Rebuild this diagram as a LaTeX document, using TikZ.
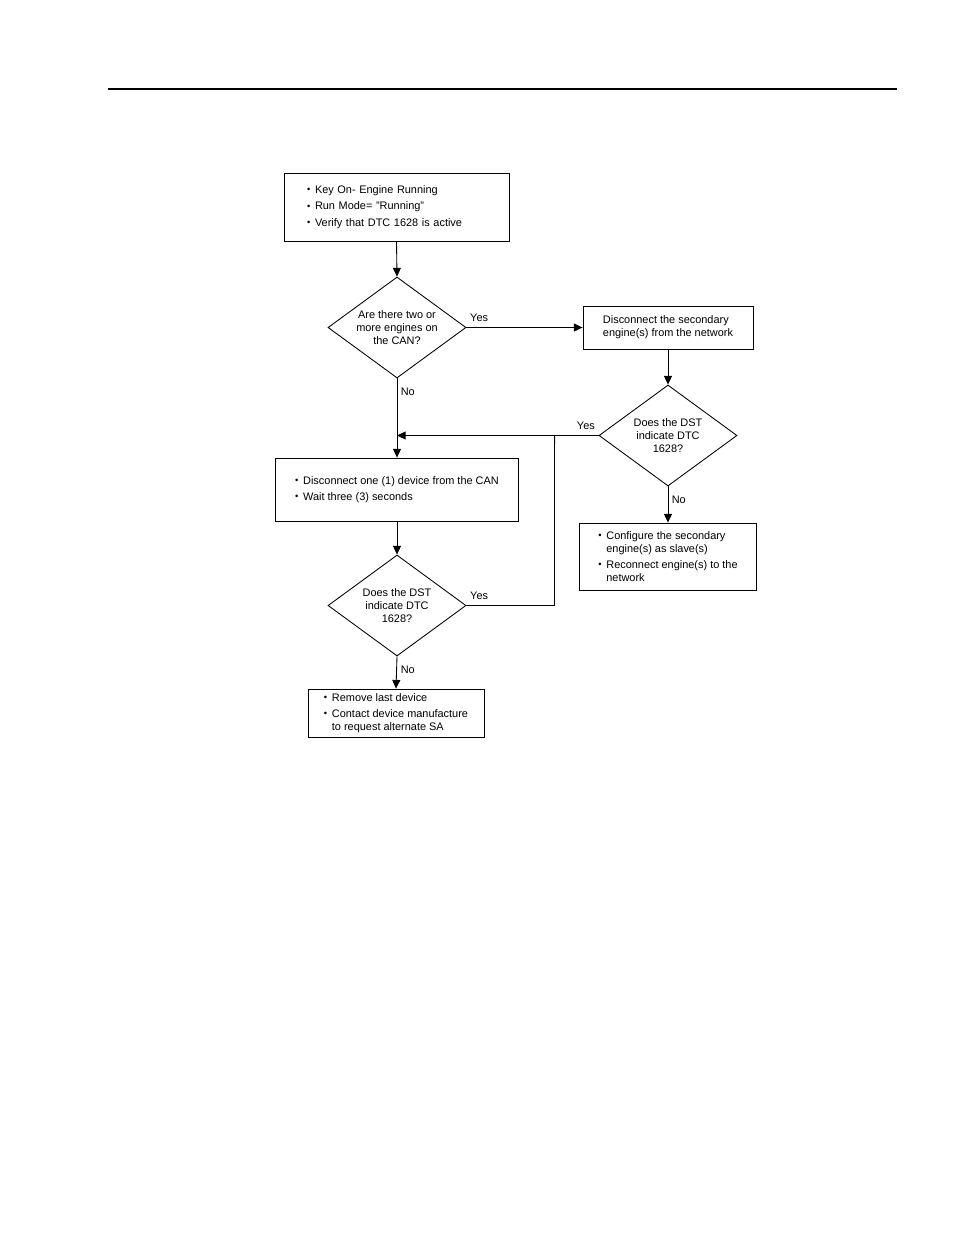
\documentclass[tikz,border=0pt]{standalone}
\usepackage{fontspec}
\setmainfont{Liberation Sans}
\usetikzlibrary{arrows.meta,shapes.geometric,positioning,calc}
\newcommand\flowfont{\fontsize{8.2}{9.8}\selectfont}
\newcommand\itm{\makebox[6pt][l]{\raisebox{.1ex}{\fontsize{7}{7}\selectfont\textbullet}}}
\newcommand\cnt{\hspace*{6pt}}
\tikzset{
 flow box/.style={draw,line width=.65pt,align=left,inner sep=0pt,font=\flowfont},
 flow test/.style={draw,diamond,aspect=1.37,line width=.65pt,inner sep=0pt,
   minimum width=103.5pt,minimum height=75.75pt,align=center,font=\flowfont},
 flow arrow/.style={-{Triangle[length=6.5pt,width=6pt]},line width=.65pt},
 flow line/.style={line width=.65pt},
 flow label/.style={font=\flowfont,inner sep=2.5pt},
 flow yes/.style={flow label,pos=0,yshift=1.5pt},
 flow no/.style={flow label,pos=0,below right,yshift=-4pt}
}
\begin{document}
\begin{tikzpicture}[x=.75pt,y=-.75pt]
\useasboundingbox (0,0) rectangle (954,1235);
\draw[line width=1pt] (108,89) -- (897,89);
% left column
\node[flow box,text width=134.25pt,inner xsep=17.25pt,minimum height=51pt] (start) at (396.5,207)
 {\itm Key On- Engine Running\\[2.6pt]\itm Run Mode= "Running"\\[2.6pt]\itm Verify that DTC 1628 is active};
\node[flow test] (multi) at (397,327.5) {Are there two or\\more engines on\\the CAN?};
\node[flow box,minimum width=182.25pt,minimum height=47.25pt] (unplug) at (397,489.5)
 {\itm Disconnect one (1) device from the CAN\\[2.4pt]\itm Wait three (3) seconds};
\node[flow test] (still) at (397,605.5) {Does the DST\\indicate DTC\\1628?};
\node[flow box,minimum width=132pt,minimum height=36pt] (vendor) at (396,713)
 {\itm Remove last device\\[2.4pt]\itm Contact device manufacture\\\cnt to request alternate SA};
% right column
\node[flow box,minimum width=127.5pt,minimum height=32.25pt] (split) at (668,327.5)
 {Disconnect the secondary\\engine(s) from the network};
\node[flow test] (active) at (668,435.5) {Does the DST\\indicate DTC\\1628?};
\node[flow box,minimum width=132.75pt,minimum height=50.25pt] (slave) at (668,556.5)
 {\itm Configure the secondary\\\cnt engine(s) as slave(s)\\[2.4pt]\itm Reconnect engine(s) to the\\\cnt network};
\coordinate (join) at ([xshift=-33pt]active.west);
% connectors
\draw[flow arrow] (start.south) -- (multi.north);
\draw[flow arrow] (multi.east) -- node[flow yes,above right]{Yes} (split.west);
\draw[flow arrow] (multi.south) -- node[flow no]{No} (unplug.north);
\draw[flow arrow] (split.south) -- (active.north);
\draw[flow arrow] (active.west) -- node[flow yes,above left]{Yes} (active.west -| multi.south);
\draw[flow arrow] (active.south) -- node[flow no]{No} (slave.north);
\draw[flow arrow] (unplug.south) -- (still.north);
\draw[flow line] (still.east) -- node[flow yes,above right]{Yes} ([xshift=66pt]still.east) -- (join);
\draw[flow arrow] (still.south) -- node[flow no]{No} (vendor.north);
\end{tikzpicture}
\end{document}
